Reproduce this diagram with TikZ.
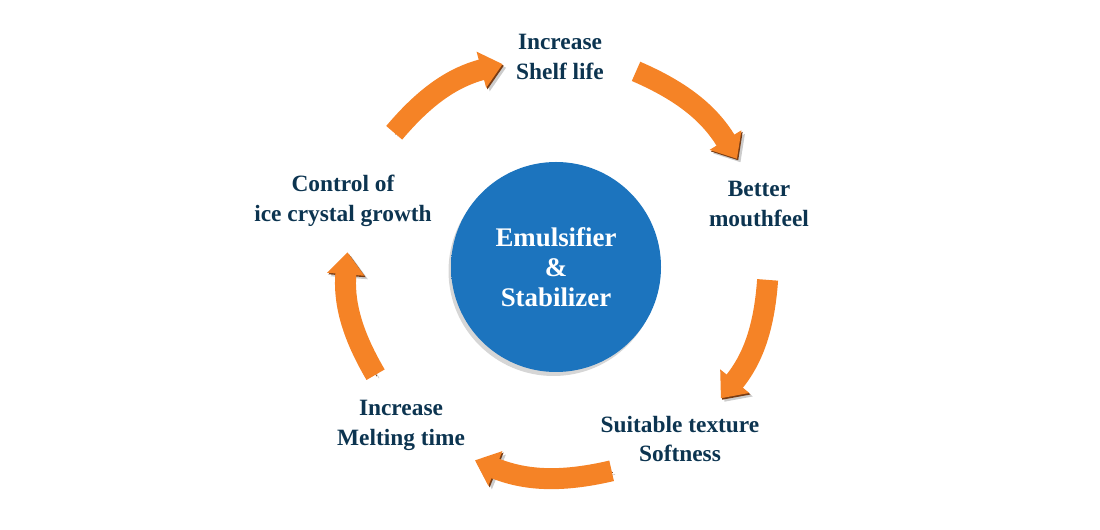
\documentclass[tikz,border=0pt]{standalone}
\usepackage{fontspec}
\setmainfont{Liberation Serif}
\definecolor{hubblue}{RGB}{28,116,190}
\definecolor{hubrim}{RGB}{12,66,122}
\definecolor{arroworange}{RGB}{245,131,38}
\definecolor{arrowedge}{RGB}{120,60,20}
\definecolor{labelnavy}{RGB}{12,52,80}
\usetikzlibrary{arrows.meta}
\pgfdeclareradialshading{hubshade}{\pgfpoint{-6bp}{6bp}}{color(0bp)=(hubblue); color(38bp)=(hubblue); color(55bp)=(hubrim)}

\begin{document}
\begin{tikzpicture}[
    lbl/.style={font=\fontsize{13.3}{17}\selectfont\bfseries, text=labelnavy, align=center},
    hub/.style={circle, minimum size=4.2cm, inner sep=0pt, shade, shading=hubshade,
        text=white, align=center, font=\fontsize{15.3}{17}\selectfont\bfseries,
        preaction={fill=black!16, transform canvas={shift={(-0.05,-0.08)}}}},
    flow/.style={line width=0.42cm, draw=arroworange, -{Triangle[length=0.44cm, width=0.72cm]},
        preaction={draw=black!20, transform canvas={shift={(0.07,-0.07)}}},
        preaction={draw=arrowedge, transform canvas={shift={(0.025,-0.03)}}}}
]
    \useasboundingbox (0,0) rectangle (22,10.6);
    \node[hub] (hub) at (11.12,5.26) {Emulsifier\\\&\\Stabilizer};

    % benefit labels round the hub
    \node[lbl] (shelf) at (11.2,9.46) {Increase\\Shelf life};
    \node[lbl] (mouth) at (15.18,6.52) {Better\\mouthfeel};
    \node[lbl] (texture) at (13.6,1.82) {Suitable texture\\Softness};
    \node[lbl] (melt) at (8.02,2.1) {Increase\\Melting time};
    \node[lbl] (ice) at (6.86,6.59) {Control of\\ice crystal growth};

    % arrow ends on a ring of radius 4.22
    \coordinate (a1s) at ([shift={(140.5:4.22)}]11.14,5.26);
    \coordinate (a1e) at ([shift={(105:4.2)}]11.14,5.26);
    \coordinate (a2s) at ([shift={(68:4.22)}]11.14,5.26);
    \coordinate (a2e) at ([shift={(31:4.2)}]11.14,5.26);
    \coordinate (a3s) at ([shift={(-3.5:4.22)}]11.14,5.26);
    \coordinate (a3e) at ([shift={(-38.7:4.2)}]11.14,5.26);
    \coordinate (a4s) at ([shift={(-75:4.22)}]11.14,5.26);
    \coordinate (a4e) at ([shift={(-113:4.2)}]11.14,5.26);
    \coordinate (a5s) at ([shift={(210.7:4.22)}]11.14,5.26);
    \coordinate (a5e) at ([shift={(176:4.2)}]11.14,5.26);

    \draw[flow] (a1s) to[bend left=17.5] (a1e);
    \draw[flow] (a2s) to[bend left=17.5] (a2e);
    \draw[flow] (a3s) to[bend left=17.5] (a3e);
    \draw[flow] (a4s) to[bend left=17.5] (a4e);
    \draw[flow] (a5s) to[bend left=17.5] (a5e);
\end{tikzpicture}
\end{document}
